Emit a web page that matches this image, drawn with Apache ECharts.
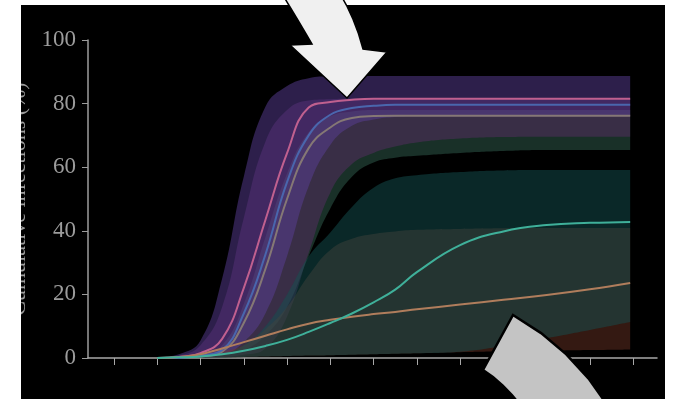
<!DOCTYPE html>
<html>
<head>
<meta charset="utf-8">
<script src="https://cdn.jsdelivr.net/npm/echarts@6/dist/echarts.min.js"></script>
<style>
  html, body { margin: 0; padding: 0; background: #fff; overflow: hidden; }
  #frame { position: absolute; left: 21px; top: 5px; width: 644px; height: 394px; background: #000; }
  #chart { position: absolute; left: 0; top: 0; width: 677px; height: 399px; }
  #edge  { position: absolute; left: 0; top: 0; width: 21px; height: 399px; background: #fff; }
</style>
</head>
<body>
<div id="frame"></div>
<div id="chart"></div>
<div id="edge"></div>
<script>
// Time points (weeks) at which every curve is sampled
const days = [2, 2.5, 3, 3.5, 4, 4.5, 5, 5.5, 6, 6.5, 7, 7.5, 8, 9, 10, 11, 12, 12.93];
const weekTicks = [1, 2, 3, 4, 5, 6, 7, 8, 9, 10, 11, 12, 13];

// Upper group: uncertainty bands (low / high) and medians, in %
const blueBandLow   = [0, 0, 0.3, 1, 5, 14, 32, 54, 67, 73, 75, 75.8, 76, 76, 76, 76, 76, 76];
const blueBandHigh  = [0.2, 1.2, 5.5, 25, 57, 79, 85.5, 88, 88.6, 88.7, 88.7, 88.7, 88.7, 88.7, 88.7, 88.7, 88.7, 88.7];
const pinkBandLow   = [0, 0, 0, 0.3, 1, 3, 13, 33, 52, 61, 64.5, 66.5, 67.8, 69, 69.5, 69.6, 69.6, 69.6];
const pinkBandHigh  = [0.1, 0.8, 4, 16, 44, 68, 78, 81, 81.4, 81.5, 81.5, 81.5, 81.5, 81.5, 81.5, 81.5, 81.5, 81.5];
const greyBandLow   = [0, 0, 0.2, 0.8, 2.5, 7, 16, 32, 47, 57, 61.5, 63, 63.6, 64.5, 65.1, 65.4, 65.4, 65.4];
const greyBandHigh  = [0, 0.2, 1, 4, 17, 38, 58, 71, 76, 77.5, 78, 78, 78, 78, 78, 78, 78, 78];
const pinkMedian    = [0, 0.3, 1.5, 6, 22, 43.4, 64.4, 78.8, 80.5, 81.2, 81.5, 81.5, 81.5, 81.5, 81.5, 81.5, 81.5, 81.5];
const blueMedian    = [0, 0.1, 0.8, 2.5, 14, 32.5, 55.3, 70, 76.5, 78.6, 79.3, 79.6, 79.6, 79.6, 79.6, 79.6, 79.6, 79.6];
const greyMedian    = [0, 0.1, 0.5, 2, 11, 28, 50, 66, 72.5, 75.5, 76.1, 76.2, 76.2, 76.2, 76.2, 76.2, 76.2, 76.2];

// Lower group
const tealBandLow    = [0, 0, 0, 0, 0.3, 0.45, 0.6, 0.75, 0.9, 1.05, 1.2, 1.35, 1.5, 2, 3.8, 6.2, 8.8, 11.3];
const tealBandHigh   = [0, 0, 0.2, 1, 4, 10, 20, 32, 39.5, 47.5, 53.5, 56.5, 57.5, 58.5, 59, 59.1, 59.1, 59.1];
const orangeBandLow  = [0, 0, 0, 0, 0.3, 0.45, 0.6, 0.75, 0.9, 1.05, 1.2, 1.35, 1.5, 1.8, 2.1, 2.3, 2.5, 2.7];
const orangeBandHigh = [0, 0.2, 0.8, 2, 4, 9, 16, 26, 34, 37.5, 39, 39.8, 40.3, 40.6, 40.8, 40.9, 40.9, 40.9];
const tealMedian     = [0, 0.2, 0.5, 1.2, 2.3, 3.8, 5.7, 8.2, 11, 14, 17.5, 21.5, 27, 35.5, 39.8, 41.8, 42.5, 42.8];
const orangeMedian   = [0, 0.3, 1.2, 3, 5, 7, 9, 10.8, 12, 13, 13.8, 14.5, 15.3, 16.8, 18.3, 19.8, 21.6, 23.6];

// The x axis is a time axis so that bands stack on the y values
const WEEK = 7 * 24 * 3600 * 1000;
const toTime = w => w * WEEK;
const pairs = vals => vals.map((v, i) => [toTime(days[i]), v]);
const common = { type: 'line', smooth: 0.45, symbol: 'none', silent: true };

function band(name, low, high, color, z) {
  return [
    Object.assign({}, common, { name: name + ' low', stack: name, z: z,
      data: pairs(low), lineStyle: { width: 0, opacity: 0 } }),
    Object.assign({}, common, { name: name, stack: name, z: z,
      data: pairs(high.map((v, i) => v - low[i])),
      lineStyle: { width: 0, opacity: 0 }, areaStyle: { color: color, opacity: 1 } })
  ];
}
function median(name, vals, color) {
  return Object.assign({}, common, { name: name, z: 5, data: pairs(vals),
    lineStyle: { color: color, width: 2 } });
}

// Call-out arrows drawn over the plot
const topArrow = [[281, -8], [289.7, 6.5], [297.8, 20], [305.2, 32.5], [312, 44], [290, 45], [347, 98],
  [387, 52], [363, 49], [358.5, 33.8], [353, 19.3], [346.5, 5.3], [339, -8]];
const bottomArrow = [[513, 315], [541.1, 333.1], [566.3, 354.3], [588.6, 378.6], [608, 406],
  [521, 406], [511.9, 395.1], [502.5, 385.5], [492.9, 377.1], [483, 370]];

const axisGrey = '#9c9c9c';
const chart = echarts.init(document.getElementById('chart'));
chart.setOption({
  backgroundColor: 'transparent',
  animation: false,
  grid: { left: 82, right: 20, top: 40, bottom: 41 },
  xAxis: {
    type: 'time', min: toTime(0.4), max: toTime(13.55),
    axisLine: { lineStyle: { color: '#a8a8a8', width: 1.5 } },
    axisTick: { show: true, length: 7, customValues: weekTicks.map(toTime), lineStyle: { color: '#a8a8a8', width: 1 } },
    axisLabel: { show: false },
    splitLine: { show: false }
  },
  yAxis: {
    type: 'value', min: 0, max: 100, interval: 20,
    name: 'Cumulative infections (%)',
    nameLocation: 'middle', nameRotate: 90, nameGap: 58,
    nameTextStyle: { color: axisGrey, fontFamily: 'Liberation Serif', fontSize: 22 },
    axisLine: { show: true, lineStyle: { color: axisGrey, width: 1.5 } },
    axisTick: { show: true, length: 6, lineStyle: { color: axisGrey, width: 1 } },
    axisLabel: { color: axisGrey, fontFamily: 'Liberation Serif', fontSize: 23, margin: 12 },
    splitLine: { show: false }
  },
  series: [].concat(
    band('grey range',   greyBandLow,   greyBandHigh,   'rgba(50,95,80,0.5)',  1),
    band('pink range',   pinkBandLow,   pinkBandHigh,   'rgba(105,45,115,0.4)', 1),
    band('blue range',   blueBandLow,   blueBandHigh,   'rgba(90,62,150,0.5)', 1),
    band('orange range', orangeBandLow, orangeBandHigh, 'rgba(115,55,40,0.45)', 2),
    band('teal range',   tealBandLow,   tealBandHigh,   'rgba(20,80,80,0.5)',  2),
    [
      median('grey',   greyMedian,   '#857875'),
      median('blue',   blueMedian,   '#4a66ad'),
      median('pink',   pinkMedian,   '#c0608f'),
      median('orange', orangeMedian, '#b07d5c'),
      median('teal',   tealMedian,   '#3fb09a')
    ]
  ),
  graphic: [
    { type: 'polygon', z: 100, silent: true, shape: { points: topArrow },
      style: { fill: '#f0f0f0', stroke: '#000', lineWidth: 1.5 } },
    { type: 'polygon', z: 100, silent: true, shape: { points: bottomArrow },
      style: { fill: '#c4c4c4', stroke: '#000', lineWidth: 2.5 } }
  ]
});
</script>
</body>
</html>
